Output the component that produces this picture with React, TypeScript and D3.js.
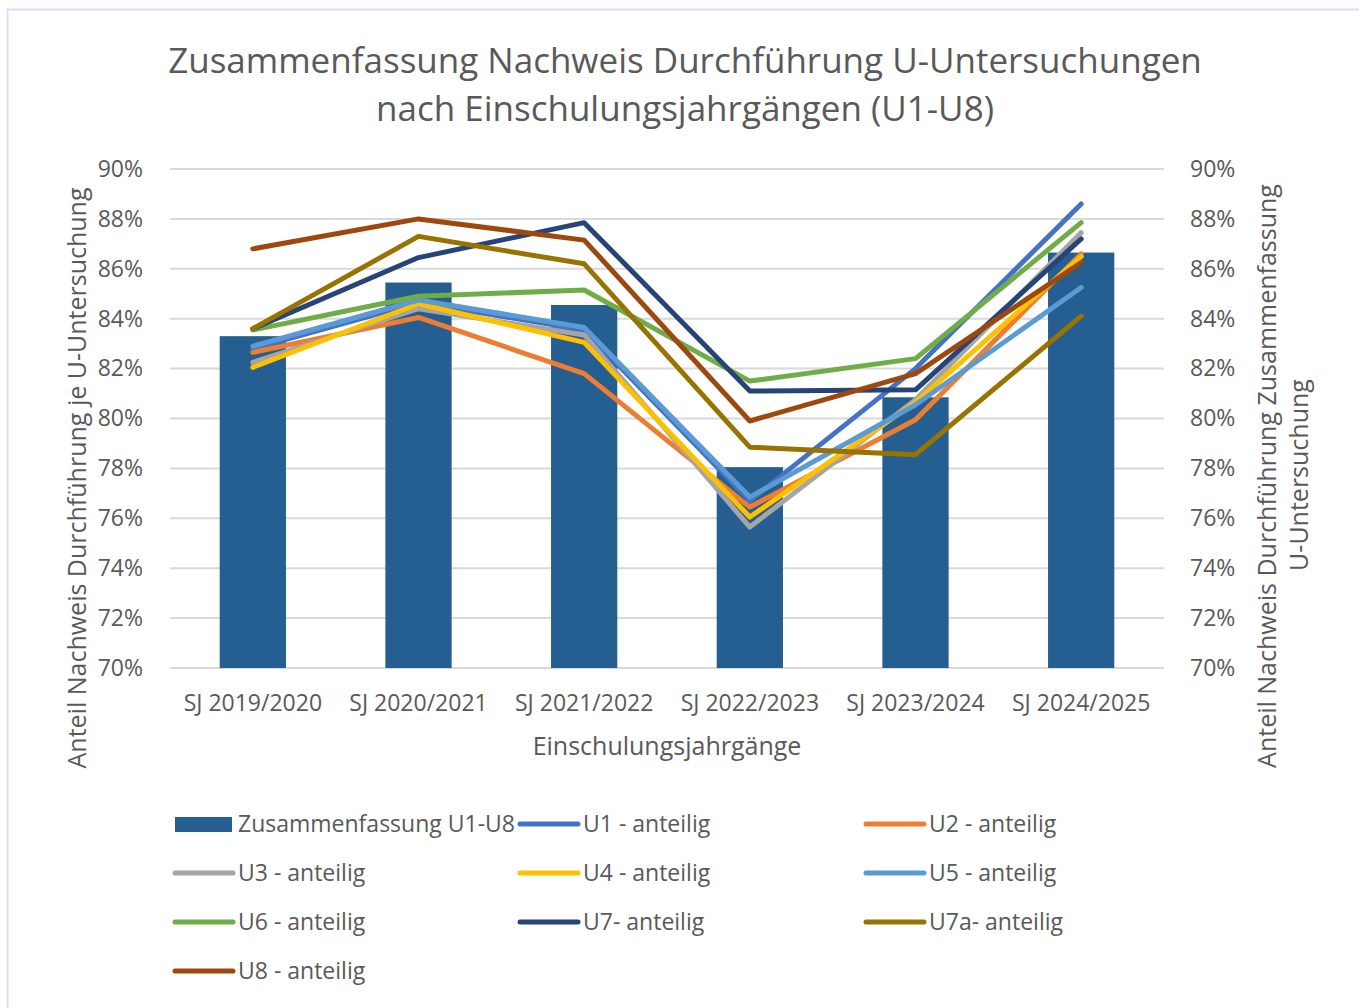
import React, { useEffect, useRef } from 'react';
import * as d3 from 'd3';

const categories = ['SJ 2019/2020', 'SJ 2020/2021', 'SJ 2021/2022', 'SJ 2022/2023', 'SJ 2023/2024', 'SJ 2024/2025'];

const summary = [83.3, 85.45, 84.55, 78.05, 80.85, 86.65];

const u1 = [82.8, 84.65, 83.55, 76.7, 82.0, 88.6];
const u2 = [82.65, 84.05, 81.8, 76.45, 79.95, 86.6];
const u3 = [82.25, 84.4, 83.35, 75.65, 80.75, 87.45];
const u4 = [82.05, 84.6, 83.05, 76.05, 80.65, 86.5];
const u5 = [82.9, 84.75, 83.65, 76.85, 80.55, 85.25];
const u6 = [83.55, 84.9, 85.15, 81.5, 82.4, 87.85];
const u7 = [83.6, 86.45, 87.85, 81.1, 81.15, 87.2];
const u7a = [83.6, 87.3, 86.2, 78.85, 78.55, 84.1];
const u8 = [86.8, 88.0, 87.15, 79.9, 81.8, 86.25];

const yTicks = [70, 72, 74, 76, 78, 80, 82, 84, 86, 88, 90];

const lineSeries = [
  { name: 'U1 - anteilig', values: u1, color: '#4472C4' },
  { name: 'U2 - anteilig', values: u2, color: '#ED7D31' },
  { name: 'U3 - anteilig', values: u3, color: '#A5A5A5' },
  { name: 'U4 - anteilig', values: u4, color: '#FFC000' },
  { name: 'U5 - anteilig', values: u5, color: '#5B9BD5' },
  { name: 'U6 - anteilig', values: u6, color: '#70AD47' },
  { name: 'U7- anteilig', values: u7, color: '#264478' },
  { name: 'U7a- anteilig', values: u7a, color: '#997300' },
  { name: 'U8 - anteilig', values: u8, color: '#9E480E' },
];

const barColor = '#255E91';
const textColor = '#595959';
const font = '"Open Sans", sans-serif';

export default function App() {
  const ref = useRef<SVGSVGElement>(null);

  useEffect(() => {
    document.body.style.margin = '0';
    const width = 1359;
    const height = 1008;
    const margin = { top: 169, bottom: 340, left: 170, right: 195 };

    const svg = d3.select(ref.current);
    svg.selectAll('*').remove();
    svg.attr('width', width).attr('height', height);

    svg.append('rect')
      .attr('x', 7.5).attr('y', 9.5)
      .attr('width', width).attr('height', height)
      .attr('fill', 'white')
      .attr('stroke', '#D9E1F2')
      .attr('stroke-width', 2);

    const xScale = d3.scaleBand()
      .domain(categories)
      .range([margin.left, width - margin.right])
      .paddingInner(0.6)
      .paddingOuter(0.3);

    const yScale = d3.scaleLinear()
      .domain([70, 90])
      .range([height - margin.bottom, margin.top]);

    // gridlines
    svg.append('g')
      .selectAll('line')
      .data(yTicks)
      .join('line')
      .attr('x1', margin.left)
      .attr('x2', width - margin.right)
      .attr('y1', d => yScale(d))
      .attr('y2', d => yScale(d))
      .attr('stroke', '#D9D9D9')
      .attr('stroke-width', 2);

    // bars
    svg.append('g')
      .selectAll('rect')
      .data(summary)
      .join('rect')
      .attr('x', (d, i) => xScale(categories[i])!)
      .attr('y', d => yScale(d))
      .attr('width', xScale.bandwidth())
      .attr('height', d => yScale(70) - yScale(d))
      .attr('fill', barColor);

    // lines
    const cx = (i: number) => xScale(categories[i])! + xScale.bandwidth() / 2;
    const line = d3.line<number>()
      .x((d, i) => cx(i))
      .y(d => yScale(d));

    lineSeries.forEach(s => {
      svg.append('path')
        .attr('d', line(s.values))
        .attr('fill', 'none')
        .attr('stroke', s.color)
        .attr('stroke-width', 5)
        .attr('stroke-linecap', 'round')
        .attr('stroke-linejoin', 'round');
    });

    // axes
    const leftAxis = svg.append('g')
      .attr('transform', `translate(${margin.left - 24},0)`)
      .call(d3.axisLeft(yScale).tickValues(yTicks).tickSize(0).tickFormat(d => d + '%'));
    leftAxis.select('.domain').remove();

    const rightAxis = svg.append('g')
      .attr('transform', `translate(${width - margin.right + 23},0)`)
      .call(d3.axisRight(yScale).tickValues(yTicks).tickSize(0).tickFormat(d => d + '%'));
    rightAxis.select('.domain').remove();

    const bottomAxis = svg.append('g')
      .attr('transform', `translate(0,${height - margin.bottom + 27})`)
      .call(d3.axisBottom(xScale).tickSize(0).tickPadding(0));
    bottomAxis.select('.domain').remove();

    svg.selectAll('.tick text')
      .attr('fill', textColor)
      .style('font-family', font)
      .style('font-size', '23px');
    bottomAxis.selectAll('.tick text').attr('dy', '0.71em');

    // titles
    const title = ['Zusammenfassung Nachweis Durchführung U-Untersuchungen', 'nach Einschulungsjahrgängen (U1-U8)'];
    svg.append('g')
      .selectAll('text')
      .data(title)
      .join('text')
      .attr('x', 685)
      .attr('y', (d, i) => 73 + i * 48)
      .attr('text-anchor', 'middle')
      .attr('fill', textColor)
      .style('font-family', font)
      .style('font-size', '35px')
      .text(d => d);

    svg.append('text')
      .attr('x', 667).attr('y', 755)
      .attr('text-anchor', 'middle')
      .attr('fill', textColor)
      .style('font-family', font)
      .style('font-size', '25px')
      .text('Einschulungsjahrgänge');

    svg.append('text')
      .attr('transform', 'translate(86,478) rotate(-90)')
      .attr('text-anchor', 'middle')
      .attr('fill', textColor)
      .style('font-family', font)
      .style('font-size', '25px')
      .text('Anteil Nachweis Durchführung je U-Untersuchung');

    svg.append('text')
      .attr('transform', 'translate(1276,476) rotate(-90)')
      .attr('text-anchor', 'middle')
      .attr('fill', textColor)
      .style('font-family', font)
      .style('font-size', '25px')
      .text('Anteil Nachweis Durchführung Zusammenfassung');

    svg.append('text')
      .attr('transform', 'translate(1308,475) rotate(-90)')
      .attr('text-anchor', 'middle')
      .attr('fill', textColor)
      .style('font-family', font)
      .style('font-size', '25px')
      .text('U-Untersuchung');

    // legend
    const legendItems = [
      { name: 'Zusammenfassung U1-U8', color: barColor, bar: true },
      ...lineSeries.map(s => ({ name: s.name, color: s.color, bar: false })),
    ];
    const colX = [173, 518, 864];
    const rowY = [824, 873, 922, 971];

    const legend = svg.append('g')
      .selectAll('g')
      .data(legendItems)
      .join('g')
      .attr('transform', (d, i) => `translate(${colX[i % 3]},${rowY[Math.floor(i / 3)]})`);

    legend.filter(d => d.bar)
      .append('rect')
      .attr('x', 2).attr('y', -7)
      .attr('width', 57).attr('height', 15)
      .attr('fill', d => d.color);

    legend.filter(d => !d.bar)
      .append('line')
      .attr('x1', 2).attr('x2', 60)
      .attr('y1', 0).attr('y2', 0)
      .attr('stroke', d => d.color)
      .attr('stroke-width', 5)
      .attr('stroke-linecap', 'round');

    legend.append('text')
      .attr('x', 65).attr('y', 0)
      .attr('dy', '0.35em')
      .attr('fill', textColor)
      .style('font-family', font)
      .style('font-size', '23px')
      .text(d => d.name);
  }, []);

  return <svg ref={ref} style={{ display: 'block' }} />;
}
